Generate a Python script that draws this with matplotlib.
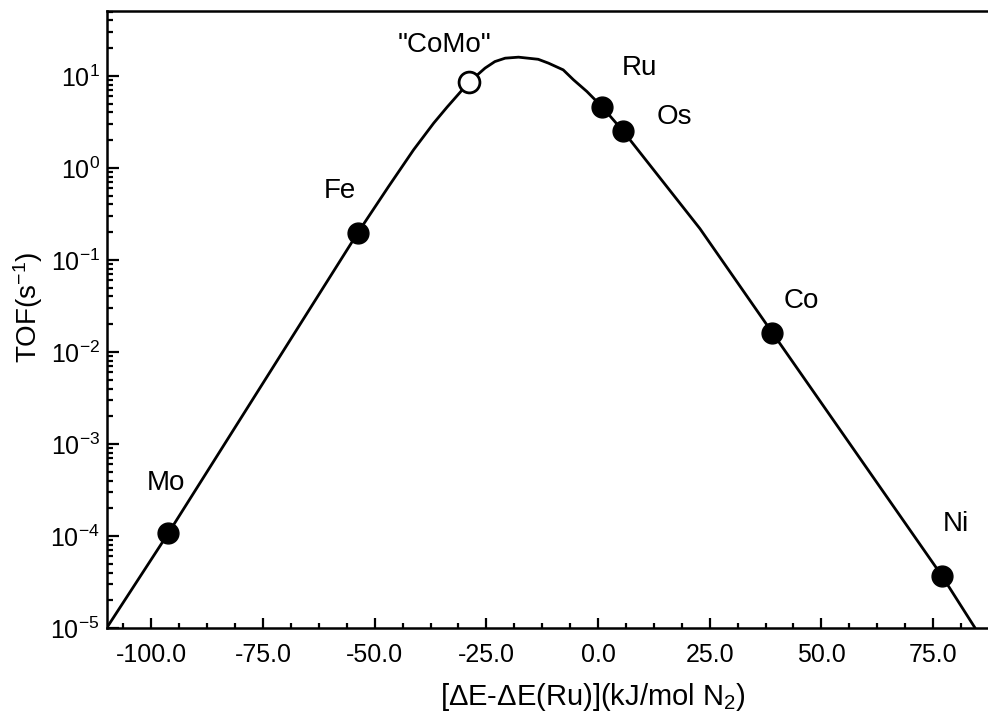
import matplotlib
matplotlib.use("Agg")
import matplotlib.pyplot as plt
from matplotlib.ticker import MultipleLocator, FormatStrFormatter, LogLocator, LogFormatterMathtext
import numpy as np

plt.rcParams['font.family'] = ['Liberation Sans', 'DejaVu Sans']
plt.rcParams['mathtext.fontset'] = 'custom'
plt.rcParams['mathtext.rm'] = 'Liberation Sans'
plt.rcParams['mathtext.it'] = 'Liberation Sans:italic'
plt.rcParams['mathtext.default'] = 'regular'
plt.rcParams['axes.unicode_minus'] = False

# Volcano curve (x in kJ/mol N2, log10 TOF)
curve_x = [-110.0, -96.2, -53.8, -46.9, -41.3, -36.8, -33.8, -30.9, -29.0, -25.3, -23.1,
           -20.8, -17.8, -13.4, -11.1, -7.8, -5.5, -2.5, 0.9, 5.6, 22.8, 39.0, 77.0, 84.4]
curve_log10_tof = [-5.0, -3.97, -0.707, -0.203, 0.196, 0.486, 0.66, 0.82, 0.925, 1.084, 1.155,
                   1.192, 1.203, 1.18, 1.138, 1.065, 0.957, 0.83, 0.663, 0.40, -0.66,
                   -1.79, -4.435, -5.0]

# Catalysts
metals = ["Mo", "Fe", "\"CoMo\"", "Ru", "Os", "Co", "Ni"]
metal_x = [-96.2, -53.8, -29.0, 0.9, 5.6, 39.0, 77.0]
metal_tof = [1.08e-4, 0.196, 8.5, 4.6, 2.5, 0.0162, 3.7e-5]
metal_open = [False, False, True, False, False, False, False]
label_offsets = [(-2, 31), (-13, 25), (-17, 22), (27, 23), (37, 5), (21, 18), (10, 32)]

xticks = [-100.0, -75.0, -50.0, -25.0, 0.0, 25.0, 50.0, 75.0]

fig = plt.figure(figsize=(9.88, 7.16), dpi=100)
ax = fig.add_axes([0.108, 0.123, 0.892, 0.862])

ax.plot(curve_x, 10 ** np.array(curve_log10_tof), color='black', lw=2.0, zorder=2,
        solid_capstyle='round', solid_joinstyle='round')

for name, x, y, op, off in zip(metals, metal_x, metal_tof, metal_open, label_offsets):
    if op:
        ax.plot(x, y, 'o', ms=15, mfc='white', mec='black', mew=2.0, zorder=3)
    else:
        ax.plot(x, y, 'o', ms=15, mfc='black', mec='black', mew=1.0, zorder=3)
    ax.annotate(name, (x, y), xytext=off, textcoords='offset points',
                ha='center', va='baseline', fontsize=20)

ax.set_yscale('log')
ax.set_xlim(-110, 87.3)
ax.set_ylim(1e-5, 51)

ax.set_xticks(xticks)
ax.xaxis.set_major_formatter(FormatStrFormatter('%.1f'))
ax.xaxis.set_minor_locator(MultipleLocator(6.25))
ax.yaxis.set_major_locator(LogLocator(base=10, numticks=20))
ax.yaxis.set_minor_locator(LogLocator(base=10, subs=np.arange(2, 10), numticks=20))
ax.yaxis.set_major_formatter(LogFormatterMathtext())

ax.tick_params(axis='both', which='both', direction='in', top=False, right=False,
               width=1.6, labelsize=18)
ax.tick_params(axis='x', which='major', length=7, pad=11)
ax.tick_params(axis='x', which='minor', length=3.5)
ax.tick_params(axis='y', which='major', length=8.5, pad=5)
ax.tick_params(axis='y', which='minor', length=4)

for s in ['left', 'bottom', 'top']:
    ax.spines[s].set_linewidth(1.8)
ax.spines['right'].set_visible(False)

ax.set_ylabel('TOF(s$^{-1}$)', fontsize=20)
ax.set_xlabel('[\u0394E-\u0394E(Ru)](kJ/mol N$_2$)', fontsize=21)
ax.yaxis.set_label_coords(-0.07, 0.519)
ax.xaxis.set_label_coords(0.552, -0.086)

fig.savefig('out.png', dpi=100)
